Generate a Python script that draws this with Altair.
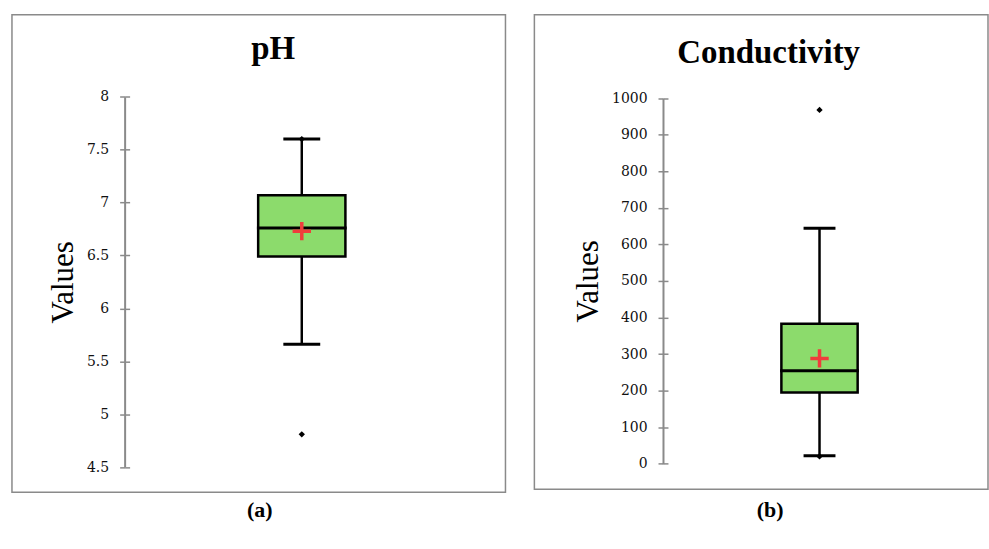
import altair as alt
import pandas as pd

# ---- data ----
ph_stats = {"low": 5.66, "q1": 6.49, "median": 6.76, "q3": 7.07, "high": 7.6, "mean": 6.73}
ph_points = [4.81, 7.6]
ph_ticks = [4.5, 5, 5.5, 6, 6.5, 7, 7.5, 8]

cond_stats = {"low": 22, "q1": 195, "median": 254, "q3": 383, "high": 644, "mean": 288}
cond_points = [968, 20]
cond_ticks = [0, 100, 200, 300, 400, 500, 600, 700, 800, 900, 1000]

SERIF = "Liberation Serif"
LABEL_FONT = "DejaVu Serif"
GRAY = "#8a8a8a"
FILL = "#8CDB6C"
RED = "#F03C3C"
PLUS = "M-1,0L1,0M0,-1L0,1"


def panel(name, title, caption, stats, points, ticks, width, height,
          yrange, axis_pos, xcenter, box_w, cap_w, title_x, title_y,
          cap_x, cap_y, label_fmt):
    s = pd.DataFrame([dict(cat=name, **stats)])
    p = pd.DataFrame({"cat": [name] * len(points), "v": points})
    xs = alt.Scale(domain=[name], range=[xcenter - 50, xcenter + 50],
                   paddingInner=0, paddingOuter=0)
    ys = alt.Scale(domain=[ticks[0], ticks[-1]], range=yrange, nice=False, zero=False)
    xaxis = alt.Axis(labels=False, ticks=False, domain=False, grid=False, title=caption,
                     titleFont=SERIF, titleFontSize=22, titleFontWeight="bold",
                     titleColor="#000", titleX=cap_x, titleY=cap_y,
                     titleAlign="center", titleBaseline="alphabetic", titleAngle=0)
    axis_a = alt.Axis(orient="left", offset=-axis_pos, values=ticks, grid=False,
                      domain=True, domainColor=GRAY, domainWidth=2,
                      ticks=True, tickSize=5, tickColor=GRAY, tickWidth=1.5,
                      labels=True, labelFont=LABEL_FONT, labelFontSize=14,
                      labelColor="#111", labelPadding=11, format=label_fmt,
                      title="Values", titleFont=SERIF, titleFontSize=31,
                      titleFontWeight="normal", titleColor="#000", titlePadding=7)
    axis_b = alt.Axis(orient="left", offset=-(axis_pos + 5), values=ticks, grid=False,
                      domain=False, ticks=True, tickSize=5, tickColor=GRAY,
                      tickWidth=1.5, labels=False, title=None)
    X = alt.X("cat:N", scale=xs, axis=xaxis)
    whisker = alt.Chart(s).mark_rule(color="black", strokeWidth=2.5).encode(
        x=X, y=alt.Y("low:Q", scale=ys, axis=axis_a), y2="high:Q")
    box = alt.Chart(s).mark_bar(size=box_w - 2.5, fill=FILL, stroke="black",
                                strokeWidth=2.5, opacity=1).encode(
        x=X, y=alt.Y("q1:Q", scale=ys, axis=axis_b), y2="q3:Q")
    median = alt.Chart(s).mark_tick(size=box_w, thickness=3, color="black",
                                    opacity=1).encode(
        x=X, y=alt.Y("median:Q", scale=ys, axis=None))
    cap_lo = alt.Chart(s).mark_tick(size=cap_w, thickness=3, color="black",
                                    opacity=1).encode(
        x=X, y=alt.Y("low:Q", scale=ys, axis=None))
    cap_hi = alt.Chart(s).mark_tick(size=cap_w, thickness=3, color="black",
                                    opacity=1).encode(
        x=X, y=alt.Y("high:Q", scale=ys, axis=None))
    mean = alt.Chart(s).mark_point(shape=PLUS, size=340, stroke=RED, strokeWidth=3.5,
                                   filled=False, opacity=1).encode(
        x=X, y=alt.Y("mean:Q", scale=ys, axis=None))
    pts = alt.Chart(p).mark_point(shape="diamond", size=40, filled=True,
                                  color="black", opacity=1).encode(
        x=X, y=alt.Y("v:Q", scale=ys, axis=None))
    head = alt.Chart(s).mark_text(font=SERIF, fontSize=33, fontWeight="bold",
                                  color="#000", align="center",
                                  baseline="alphabetic").encode(
        x=alt.value(title_x), y=alt.value(title_y), text=alt.value(title))
    return alt.layer(whisker, box, median, cap_lo, cap_hi, mean, pts, head).resolve_axis(
        y="independent").properties(width=width, height=height)


left = panel("pH", "pH", "(a)", ph_stats, ph_points, ph_ticks,
             width=495, height=479, yrange=[453.7, 82.3], axis_pos=113,
             xcenter=290.7, box_w=90, cap_w=37, title_x=262, title_y=44,
             cap_x=248, cap_y=24, label_fmt="")
right = panel("Conductivity", "Conductivity", "(b)", cond_stats, cond_points, cond_ticks,
              width=455, height=476, yrange=[450.3, 83.7], axis_pos=129,
              xcenter=286, box_w=79, cap_w=32, title_x=235, title_y=48,
              cap_x=236, cap_y=27, label_fmt="d")

chart = alt.hconcat(left, right, spacing=27).properties(
    padding={"left": 11, "top": 13, "right": 0, "bottom": 0},
    background="white",
).configure_view(stroke=GRAY, strokeWidth=1.5)

chart.save("out.html", embed_options={"renderer": "svg", "actions": False})
